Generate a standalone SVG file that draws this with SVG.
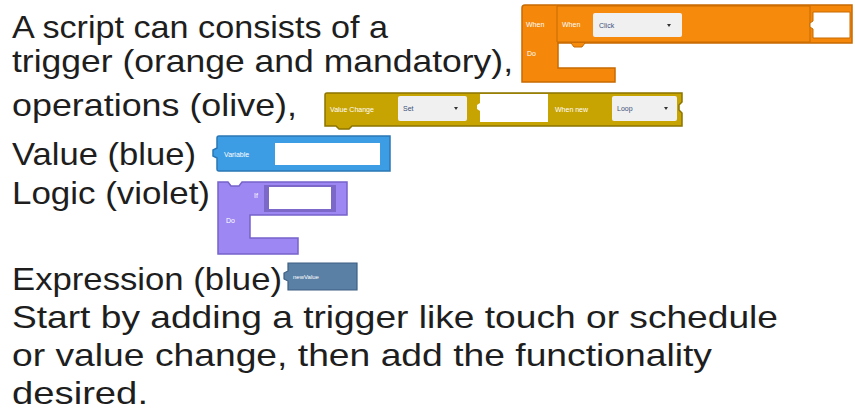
<svg xmlns="http://www.w3.org/2000/svg" width="855" height="413" viewBox="0 0 855 413">
<style>
.t{font-family:"Liberation Sans",Arial,sans-serif;font-size:32px;fill:#1e1e1e}
.bl{font-family:"Liberation Sans",Arial,sans-serif;font-size:7px;fill:#ffffff}
.dd{font-family:"Liberation Sans",Arial,sans-serif;font-size:7px;fill:#40507a}
.fld{fill:#f0f0f0}
.inp{fill:#ffffff}
</style>
<rect width="855" height="413" fill="#ffffff"/>
<g id="text">
<text class="t" x="12" y="38" textLength="376" lengthAdjust="spacingAndGlyphs">A script can consists of a</text>
<text class="t" x="12" y="72" textLength="501" lengthAdjust="spacingAndGlyphs">trigger (orange and mandatory),</text>
<text class="t" x="12" y="116" textLength="285" lengthAdjust="spacingAndGlyphs">operations (olive),</text>
<text class="t" x="12" y="165" textLength="184" lengthAdjust="spacingAndGlyphs">Value (blue)</text>
<text class="t" x="12" y="204" textLength="198" lengthAdjust="spacingAndGlyphs">Logic (violet)</text>
<text class="t" x="12" y="290" textLength="270" lengthAdjust="spacingAndGlyphs">Expression (blue)</text>
<text class="t" x="12" y="328" textLength="766" lengthAdjust="spacingAndGlyphs">Start by adding a trigger like touch or schedule</text>
<text class="t" x="12" y="366" textLength="700" lengthAdjust="spacingAndGlyphs">or value change, then add the functionality</text>
<text class="t" x="12" y="404" textLength="136" lengthAdjust="spacingAndGlyphs">desired.</text>
</g>
<g id="trigger">
<path d="M522,8 Q522,5 525,5 H852 V43 H558 V68 H615 V82 H522 Z" fill="#f5880a" stroke="#c76a00" stroke-width="1.5"/>
<path d="M557,6 H810 V42 H557 Z" fill="#f58a0c" stroke="#c76a00" stroke-width="1"/>
<path d="M571,43 L574,47 H582 L585,43" fill="#f58a0c" stroke="#c76a00" stroke-width="1"/>
<text class="bl" x="526" y="27">When</text>
<text class="bl" x="562" y="27">When</text>
<rect class="fld" x="593" y="13" width="89" height="24" rx="2"/>
<text class="dd" x="599" y="28">Click</text>
<path d="M667,24 l4,0 l-2,3 z" fill="#333"/>
<path d="M813,12 H850 V38 H813 V29 L810,27 L810,23 L813,21 Z" fill="#ffffff" stroke="#c76a00" stroke-width="1"/>
<text class="bl" x="527" y="56">Do</text>
</g>
<g id="operation">
<path d="M325,95 Q325,93 327,93 H682 V102 L679,105 V110 L682,113 V126 H352 L349,129 H339 L336,126 H325 Z" fill="#c8a402" stroke="#8c7400" stroke-width="1.5"/>
<text class="bl" x="330" y="112">Value Change</text>
<rect class="fld" x="398" y="96" width="69" height="25" rx="2"/>
<text class="dd" x="403" y="111">Set</text>
<path d="M454,107 l4,0 l-2,3 z" fill="#333"/>
<path d="M480,94 H548 V122 H480 V111 L477,109 L477,105 L480,103 Z" fill="#ffffff"/>
<text class="bl" x="555" y="112">When new</text>
<rect class="fld" x="612" y="96" width="65" height="25" rx="2"/>
<text class="dd" x="617" y="111">Loop</text>
<path d="M664,107 l4,0 l-2,3 z" fill="#333"/>
</g>
<g id="value">
<path d="M219,136 H390 V171 H219 Q217,171 217,169 V158 L213,156 V150 L217,148 V138 Q217,136 219,136 Z" fill="#3d9de4" stroke="#2a77b5" stroke-width="1.5"/>
<text class="bl" x="224" y="157">Variable</text>
<rect class="inp" x="275" y="143" width="105" height="22"/>
</g>
<g id="logic">
<path d="M218,182 H228 L231,186 H239 L242,182 H347 V215 H250 V238 H298 V254 H218 Z" fill="#9d87f2" stroke="#7763cc" stroke-width="1.5"/>
<rect x="264" y="185" width="72" height="27" fill="#7b68c8"/>
<rect class="inp" x="269" y="187" width="62" height="22"/>
<text class="bl" x="254" y="198">If</text>
<text class="bl" x="226" y="223">Do</text>
</g>
<g id="expression">
<path d="M288,263 H357 V290 H288 V281 L284,279 V273 L288,271 Z" fill="#5a80a6" stroke="#3d5f82" stroke-width="1.2"/>
<text class="bl" x="293" y="279" style="font-size:6px">newValue</text>
</g>
<g id="connectors"></g>
</svg>
